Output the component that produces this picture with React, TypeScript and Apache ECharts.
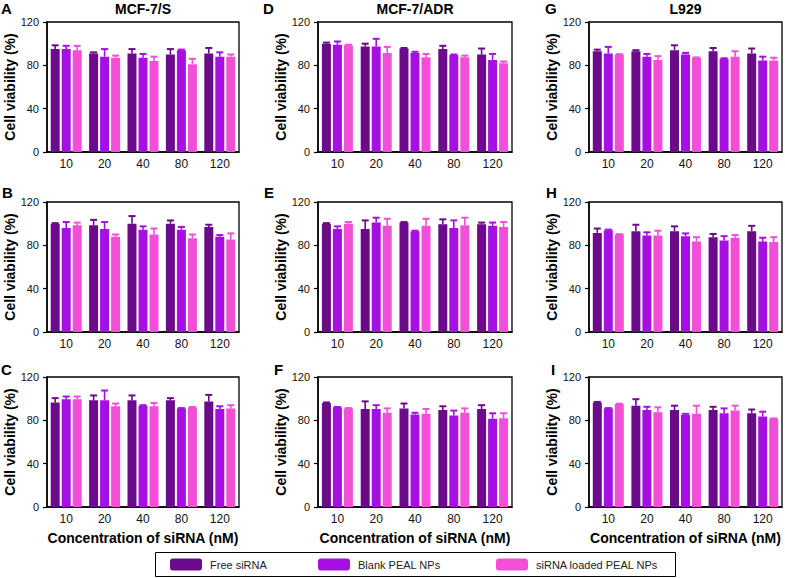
import React, { useEffect, useRef } from 'react';
import * as echarts from 'echarts';

const categories = ['10', '20', '40', '80', '120'];
const seriesNames = ['Free siRNA', 'Blank PEAL NPs', 'siRNA loaded PEAL NPs'];
const seriesColors = ['#6c0a8c', '#a60fe2', '#f24fd6'];
const yMin = 0;
const yMax = 120;
const yInterval = 40;

// Panel A – MCF-7/S
const aFree = [95, 91, 91, 90, 91];
const aFreeErr = [3.5, 1, 4, 5, 5];
const aBlank = [95, 88, 87, 94, 88];
const aBlankErr = [3, 7, 3.5, 0.5, 4];
const aLoaded = [94, 87, 84, 81, 88];
const aLoadedErr = [4, 2, 4, 5, 2];

// Panel B – MCF-7/S
const bFree = [100, 98.5, 100, 100, 97];
const bFreeErr = [0.5, 5, 7, 3, 2];
const bBlank = [96, 95, 94.5, 94.5, 88];
const bBlankErr = [5.5, 6.5, 3, 2.5, 1.5];
const bLoaded = [98.5, 88, 90, 86.5, 85.5];
const bLoadedErr = [2.5, 2, 5.5, 3.5, 5.5];

// Panel C – MCF-7/S
const cFree = [96.5, 98.5, 98.5, 98.5, 97.5];
const cFreeErr = [4, 4.5, 4.5, 2, 6];
const cBlank = [99.5, 98.5, 93.5, 91, 90.5];
const cBlankErr = [2.5, 9, 0.5, 0.3, 2.5];
const cLoaded = [99.5, 93, 93, 92, 91];
const cLoadedErr = [2.5, 2.5, 3, 0.3, 3];

// Panel D – MCF-7/ADR
const dFree = [100, 97.5, 95.5, 95, 90];
const dFreeErr = [1, 2.5, 0.5, 3, 5.5];
const dBlank = [99, 97.5, 91.5, 89.5, 85];
const dBlankErr = [3, 7, 1, 0.5, 5.5];
const dLoaded = [98.5, 91.5, 87.5, 87.5, 82];
const dLoadedErr = [0.5, 5.5, 3, 1.5, 1.5];

// Panel E – MCF-7/ADR
const eFree = [100, 95, 101, 99.5, 99.5];
const eFreeErr = [0.5, 8, 0.5, 4.5, 1.5];
const eBlank = [95, 101, 93, 96, 98];
const eBlankErr = [2.5, 4.5, 0.5, 7, 3];
const eLoaded = [100, 98, 98, 98.5, 97];
const eLoadedErr = [1.5, 6.5, 6.5, 7, 4.5];

// Panel F – MCF-7/ADR
const fFree = [96, 90.5, 91, 89.5, 90.5];
const fFreeErr = [0.5, 7, 4.5, 3.5, 3.5];
const fBlank = [92, 90.5, 85.5, 84.5, 81.5];
const fBlankErr = [0.3, 3.5, 1.5, 4.5, 5];
const fLoaded = [91, 87, 86, 87, 82];
const fLoadedErr = [0.3, 4, 4.5, 4, 4.5];

// Panel G – L929
const gFree = [93, 93, 94, 93, 91];
const gFreeErr = [1.5, 1, 4.5, 3, 4.5];
const gBlank = [91, 88, 90, 86, 84.5];
const gBlankErr = [6, 2.5, 1.5, 0.5, 3.5];
const gLoaded = [90, 85, 87, 88, 84.5];
const gLoadedErr = [0.3, 3.5, 0.3, 5, 2.5];

// Panel H – L929
const hFree = [91.5, 93, 93, 87.5, 93];
const hFreeErr = [4, 6, 4.5, 3, 5];
const hBlank = [94, 89, 88.5, 84.5, 83.5];
const hBlankErr = [0.5, 3, 2.5, 4, 3.5];
const hLoaded = [90, 89, 83.5, 87, 83];
const hLoadedErr = [0.3, 4.5, 4, 2.5, 4.5];

// Panel I – L929
const iFree = [96.5, 93.5, 89.5, 89.5, 86.5];
const iFreeErr = [0.5, 6, 4, 3, 3.5];
const iBlank = [91, 89.5, 85, 86.5, 83.5];
const iBlankErr = [0.3, 3, 1, 4.5, 4.5];
const iLoaded = [95, 87.5, 86, 89, 81.5];
const iLoadedErr = [0.3, 4.5, 7.5, 4.5, 0.3];

const columnTitles = ['MCF-7/S', 'MCF-7/ADR', 'L929'];
const yAxisName = 'Cell viability (%)';
const xAxisName = 'Concentration of siRNA (nM)';

const FONT = 'Arial, "Liberation Sans", sans-serif';
const BAR_W = 9;
const BAR_GAP_PX = 2;
const BAR_STEP = BAR_W + BAR_GAP_PX;

// layout
const colLefts = [47, 318, 589];
const colWidths = [192, 194, 193];
const rowTops = [22, 202, 377];
const plotHeight = 130;

const panels = [
  { letter: 'A', col: 0, row: 0, means: [aFree, aBlank, aLoaded], errs: [aFreeErr, aBlankErr, aLoadedErr], lx: 1 },
  { letter: 'B', col: 0, row: 1, means: [bFree, bBlank, bLoaded], errs: [bFreeErr, bBlankErr, bLoadedErr], lx: 2 },
  { letter: 'C', col: 0, row: 2, means: [cFree, cBlank, cLoaded], errs: [cFreeErr, cBlankErr, cLoadedErr], lx: 1 },
  { letter: 'D', col: 1, row: 0, means: [dFree, dBlank, dLoaded], errs: [dFreeErr, dBlankErr, dLoadedErr], lx: 263 },
  { letter: 'E', col: 1, row: 1, means: [eFree, eBlank, eLoaded], errs: [eFreeErr, eBlankErr, eLoadedErr], lx: 264 },
  { letter: 'F', col: 1, row: 2, means: [fFree, fBlank, fLoaded], errs: [fFreeErr, fBlankErr, fLoadedErr], lx: 274 },
  { letter: 'G', col: 2, row: 0, means: [gFree, gBlank, gLoaded], errs: [gFreeErr, gBlankErr, gLoadedErr], lx: 545 },
  { letter: 'H', col: 2, row: 1, means: [hFree, hBlank, hLoaded], errs: [hFreeErr, hBlankErr, hLoadedErr], lx: 546 },
  { letter: 'I', col: 2, row: 2, means: [iFree, iBlank, iLoaded], errs: [iFreeErr, iBlankErr, iLoadedErr], lx: 551 },
];
const letterYs = [8, 192, 369];
const legendLefts = [170, 318, 496];

function buildOption() {
  const grid: any[] = [];
  const xAxis: any[] = [];
  const yAxis: any[] = [];
  const series: any[] = [];
  const graphic: any[] = [];

  panels.forEach((p, pi) => {
    grid.push({
      left: colLefts[p.col],
      top: rowTops[p.row],
      width: colWidths[p.col],
      height: plotHeight,
      show: true,
      borderColor: '#000',
      borderWidth: 1.3,
      containLabel: false,
    });
    const isBottom = p.row === 2;
    xAxis.push({
      type: 'category',
      gridIndex: pi,
      data: categories,
      axisLine: { lineStyle: { color: '#000', width: 1.5 } },
      axisTick: { alignWithLabel: true, length: 4, lineStyle: { color: '#000', width: 1.2 } },
      axisLabel: { color: '#111', fontSize: 12, margin: 6, fontFamily: FONT },
      name: isBottom ? xAxisName : '',
      nameLocation: 'middle',
      nameGap: 24,
      nameTextStyle: { color: '#000', fontSize: 14, fontWeight: 'bold', fontFamily: FONT },
    });
    yAxis.push({
      type: 'value',
      gridIndex: pi,
      min: yMin,
      max: yMax,
      interval: yInterval,
      axisLine: { show: true, lineStyle: { color: '#000', width: 1.5 } },
      axisTick: { show: true, length: 4, lineStyle: { color: '#000', width: 1.2 } },
      axisLabel: { color: '#111', fontSize: 11, margin: 8, fontFamily: FONT },
      splitLine: { show: false },
      name: yAxisName,
      nameLocation: 'middle',
      nameGap: 30,
      nameTextStyle: { color: '#000', fontSize: 14, fontWeight: 'bold', fontFamily: FONT },
    });
    for (let k = 0; k < 3; k++) {
      series.push({
        type: 'bar',
        name: seriesNames[k],
        xAxisIndex: pi,
        yAxisIndex: pi,
        barWidth: BAR_W,
        barGap: (BAR_GAP_PX / BAR_W) * 100 + '%',
        itemStyle: { color: seriesColors[k] },
        data: p.means[k],
      });
    }
    for (let k = 0; k < 3; k++) {
      const color = seriesColors[k];
      const offset = (k - 1) * BAR_STEP;
      series.push({
        type: 'custom',
        name: 'err-' + pi + '-' + k,
        xAxisIndex: pi,
        yAxisIndex: pi,
        z: 5,
        encode: { x: 0, y: 1 },
        data: p.means[k].map((m, i) => [i, m, p.errs[k][i]]),
        renderItem: (params: any, api: any) => {
          const c = api.value(0);
          const v = api.value(1);
          const e = api.value(2);
          const base = api.coord([c, v]);
          const top = api.coord([c, v + e]);
          const x = base[0] + offset;
          return {
            type: 'group',
            children: [
              { type: 'line', shape: { x1: x, y1: base[1], x2: x, y2: top[1] }, style: { stroke: color, lineWidth: 1.6 } },
              { type: 'line', shape: { x1: x - 3.5, y1: top[1], x2: x + 3.5, y2: top[1] }, style: { stroke: color, lineWidth: 2 } },
            ],
          };
        },
      });
    }
    graphic.push({
      type: 'text',
      x: p.lx,
      y: letterYs[p.row],
      style: { text: p.letter, font: 'bold 15px ' + FONT, fill: '#000', align: 'left', verticalAlign: 'middle', textAlign: 'left', textVerticalAlign: 'middle' },
    });
  });

  columnTitles.forEach((t, ci) => {
    graphic.push({
      type: 'text',
      x: colLefts[ci] + colWidths[ci] / 2,
      y: 9,
      style: { text: t, font: 'bold 14px ' + FONT, fill: '#000', align: 'center', verticalAlign: 'middle', textAlign: 'center', textVerticalAlign: 'middle' },
    });
  });

  graphic.push({
    type: 'rect',
    shape: { x: 155.5, y: 552.5, width: 520, height: 24 },
    style: { fill: 'none', stroke: '#000', lineWidth: 1 },
  });

  const legend = seriesNames.map((n, k) => ({
    left: legendLefts[k],
    top: 558.5,
    data: [n],
    icon: 'roundRect',
    itemWidth: 32,
    itemHeight: 12,
    padding: 0,
    selectedMode: false,
    textStyle: { fontSize: 11, color: '#222', fontFamily: FONT, padding: [0, 0, 0, 3] },
  }));

  return {
    animation: false,
    backgroundColor: '#fff',
    textStyle: { fontFamily: FONT },
    grid,
    xAxis,
    yAxis,
    series,
    legend,
    graphic,
  };
}

export default function App() {
  const ref = useRef<HTMLDivElement>(null);
  useEffect(() => {
    if (!ref.current) return;
    const chart = echarts.init(ref.current, null, { renderer: 'svg' });
    chart.setOption(buildOption() as any);
    return () => chart.dispose();
  }, []);
  return <div ref={ref} style={{ position: 'absolute', left: 0, top: 0, width: 785, height: 578 }} />;
}
